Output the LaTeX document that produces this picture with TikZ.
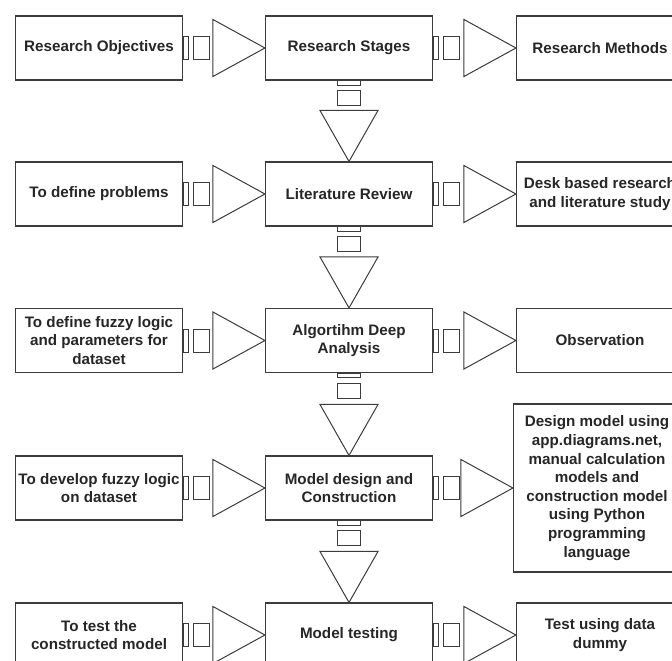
\documentclass[tikz,border=0pt]{standalone}
\usepackage{fontspec}
\setmainfont{Liberation Sans}
\usepackage{xcolor}
\usepackage{tikz}
\usetikzlibrary{calc}
\definecolor{linegray}{RGB}{60,60,60}
\definecolor{textgray}{RGB}{38,38,38}

\tikzset{
    stagebox/.style={draw=linegray, line width=1.1pt, minimum width=167pt, minimum height=64pt,
        inner sep=1pt, align=center, text=textgray, font=\bfseries\fontsize{15.2}{18.6}\selectfont},
    flexpart/.style={draw=linegray, line width=1pt, line join=miter}
}

% block arrow pointing right, from box #1 to box #2
\newcommand{\flexright}[2]{%
    \draw[flexpart] ($(#1.east)+(0,-11.5)$) rectangle ($(#1.east)+(5,11.5)$);
    \draw[flexpart] ($(#1.east)+(10,-11.5)$) rectangle ($(#1.east)+(26,11.5)$);
    \draw[flexpart] ($(#2.west)+(-52,-28.5)$) -- (#2.west) -- ($(#2.west)+(-52,28.5)$) -- cycle;
}
% block arrow pointing down, from box #1 to box #2
\newcommand{\flexdown}[2]{%
    \draw[flexpart] ($(#1.south)+(-11.5,0)$) rectangle ($(#1.south)+(11.5,-4.5)$);
    \draw[flexpart] ($(#1.south)+(-11.5,-10)$) rectangle ($(#1.south)+(11.5,-25)$);
    \draw[flexpart] ($(#2.north)+(-29,51)$) -- (#2.north) -- ($(#2.north)+(29,51)$) -- cycle;
}

\begin{document}
\begin{tikzpicture}[x=1pt, y=1pt]
    \useasboundingbox (0,0) rectangle (672,-661);
    \clip (0,0) rectangle (672,-661);

    % row 1
    \node[stagebox] (obj) at (99,-48) {Research Objectives};
    \node[stagebox] (stages) at (349,-48) {Research Stages};
    \node[stagebox] (methods) at (600,-48) {Research Methods};

    % row 2
    \node[stagebox] (prob) at (99,-194) {To define problems};
    \node[stagebox] (litrev) at (349,-194) {Literature Review};
    \node[stagebox] (desk) at (600,-194) {Desk based research\\and literature study};

    % row 3
    \node[stagebox] (fuzzydef) at (99,-340.5) {To define fuzzy logic\\and parameters for\\dataset};
    \node[stagebox] (algo) at (349,-340.5) {Algortihm Deep\\Analysis};
    \node[stagebox] (observ) at (600,-340.5) {Observation};

    % row 4
    \node[stagebox] (fuzzydev) at (99,-488) {To develop fuzzy logic\\on dataset};
    \node[stagebox] (design) at (349,-488) {Model design and\\Construction};
    \node[stagebox, minimum height=168pt] (designtool) at (597,-488) {Design model using\\app.diagrams.net,\\manual calculation\\models and\\construction model\\using Python\\programming\\language};

    % row 5
    \node[stagebox] (testgoal) at (99,-635) {To test the\\constructed model};
    \node[stagebox] (testing) at (349,-635) {Model testing};
    \node[stagebox] (testdummy) at (600,-635) {Test using data\\dummy};

    \flexright{obj}{stages}
    \flexright{stages}{methods}
    \flexright{prob}{litrev}
    \flexright{litrev}{desk}
    \flexright{fuzzydef}{algo}
    \flexright{algo}{observ}
    \flexright{fuzzydev}{design}
    \flexright{design}{designtool}
    \flexright{testgoal}{testing}
    \flexright{testing}{testdummy}

    \flexdown{stages}{litrev}
    \flexdown{litrev}{algo}
    \flexdown{algo}{design}
    \flexdown{design}{testing}
\end{tikzpicture}
\end{document}
